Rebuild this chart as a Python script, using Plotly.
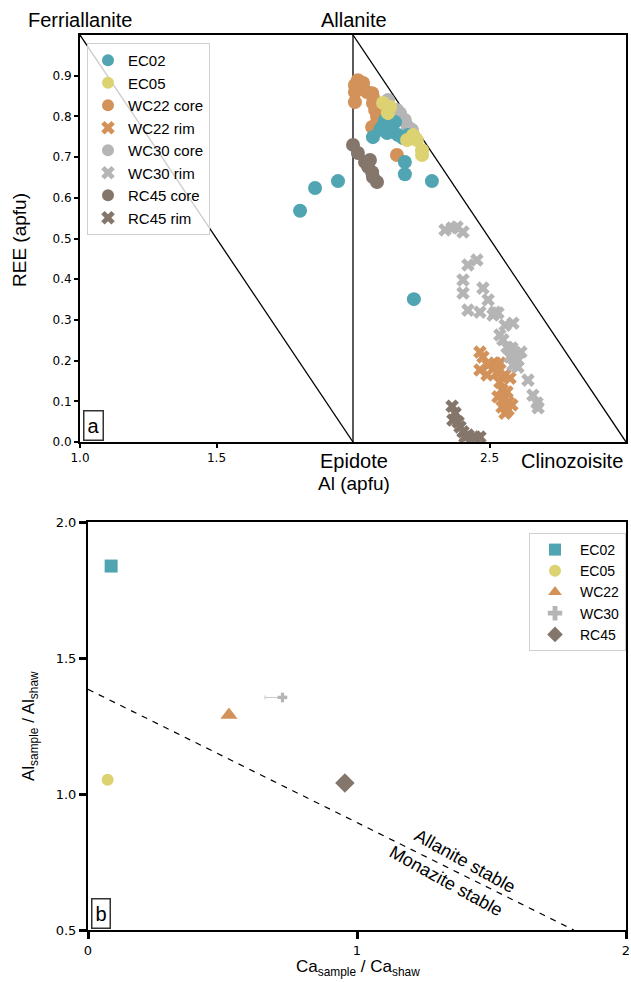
import plotly.graph_objects as go

# ---------------- Panel a : REE vs Al (apfu) ----------------
ec02_al = [1.806, 1.861, 1.945, 2.223, 2.289, 2.190, 2.190, 2.073, 2.099, 2.117, 2.136, 2.147,
           2.165, 2.183, 2.201, 2.125, 2.154, 2.106, 2.125]
ec02_ree = [0.568, 0.624, 0.641, 0.351, 0.641, 0.688, 0.658, 0.749, 0.767, 0.791, 0.779, 0.762,
            0.754, 0.747, 0.754, 0.796, 0.786, 0.774, 0.759]

ec05_al = [2.110, 2.128, 2.136, 2.198, 2.216, 2.234, 2.253, 2.253, 2.220]
ec05_ree = [0.833, 0.808, 0.823, 0.742, 0.747, 0.742, 0.717, 0.705, 0.754]

wc22c_al = [2.018, 2.007, 2.037, 2.007, 2.051, 2.070, 2.073, 2.007, 2.073, 2.081, 2.088, 2.070,
            2.088, 2.161]
wc22c_ree = [0.889, 0.877, 0.882, 0.860, 0.860, 0.857, 0.848, 0.835, 0.833, 0.816, 0.799, 0.774,
             0.784, 0.705]

wc22r_al = [2.465, 2.476, 2.465, 2.495, 2.520, 2.538, 2.491, 2.527, 2.557, 2.575, 2.538, 2.546,
            2.564, 2.531, 2.549, 2.568, 2.546, 2.568, 2.582, 2.557]
wc22r_ree = [0.221, 0.209, 0.177, 0.189, 0.194, 0.194, 0.165, 0.170, 0.165, 0.157, 0.147, 0.128,
             0.123, 0.111, 0.103, 0.098, 0.086, 0.079, 0.091, 0.071]

wc30c_al = [2.128, 2.161, 2.172, 2.190, 2.201, 2.216, 2.154]
wc30c_ree = [0.840, 0.816, 0.808, 0.791, 0.774, 0.767, 0.796]

wc30r_al = [2.337, 2.363, 2.381, 2.403, 2.421, 2.454, 2.403, 2.403, 2.476, 2.495, 2.421, 2.465,
            2.520, 2.531, 2.513, 2.557, 2.586, 2.538, 2.549, 2.582, 2.593, 2.604, 2.586, 2.604,
            2.641, 2.659, 2.674, 2.678, 2.564, 2.575, 2.615]
wc30r_ree = [0.521, 0.526, 0.528, 0.516, 0.435, 0.447, 0.398, 0.366, 0.378, 0.349, 0.324, 0.319,
             0.319, 0.317, 0.312, 0.287, 0.292, 0.263, 0.251, 0.231, 0.219, 0.201, 0.189, 0.184,
             0.152, 0.115, 0.096, 0.084, 0.233, 0.209, 0.221]

rc45c_al = [2.000, 2.018, 2.044, 2.062, 2.055, 2.070, 2.073, 2.088]
rc45c_ree = [0.730, 0.710, 0.688, 0.693, 0.676, 0.663, 0.651, 0.639]

rc45r_al = [2.363, 2.374, 2.366, 2.385, 2.392, 2.403, 2.421, 2.447, 2.465, 2.410]
rc45r_ree = [0.088, 0.071, 0.054, 0.049, 0.037, 0.025, 0.017, 0.012, 0.012, 0.012]

# end-member boundary lines (Al, REE)
line1_al = [1.0, 2.0]
line1_ree = [1.0, 0.0]
line2_al = [2.0, 2.0]
line2_ree = [0.0, 1.0]
line3_al = [2.0, 3.0]
line3_ree = [1.0, 0.0]

# ---------------- Panel b : Al ratio vs Ca ratio ----------------
b_names = ["EC02", "EC05", "WC22", "WC30", "RC45"]
b_ca = [0.086, 0.073, 0.524, 0.723, 0.955]
b_al = [1.838, 1.052, 1.290, 1.355, 1.040]
wc30_err_plus = 0.010
wc30_err_minus = 0.065
boundary_ca = [0.0, 1.806]
boundary_al = [1.385, 0.500]

C_EC02 = "#51A5B2"
C_EC05 = "#DCD272"
C_WC22 = "#D3925A"
C_WC30 = "#B5B5B5"
C_RC45 = "#85766B"

TXT = "Liberation Sans"
TICK = "DejaVu Sans"

fig = go.Figure()

for lx, ly in [(line1_al, line1_ree), (line2_al, line2_ree), (line3_al, line3_ree)]:
    fig.add_trace(go.Scatter(x=lx, y=ly, mode="lines", line=dict(color="black", width=1.3),
                             showlegend=False, hoverinfo="skip", xaxis="x", yaxis="y"))

def pts(x, y, name, color, symbol, size, rank):
    return go.Scatter(x=x, y=y, mode="markers", name=name, legendrank=rank, legend="legend",
                      marker=dict(color=color, symbol=symbol, size=size, line=dict(width=0)),
                      xaxis="x", yaxis="y")

fig.add_trace(pts(rc45c_al, rc45c_ree, "RC45 core", C_RC45, "circle", 14, 7))
fig.add_trace(pts(wc22c_al, wc22c_ree, "WC22 core", C_WC22, "circle", 14, 3))
fig.add_trace(pts(wc30c_al, wc30c_ree, "WC30 core", C_WC30, "circle", 14, 5))
fig.add_trace(pts(ec02_al, ec02_ree, "EC02", C_EC02, "circle", 14, 1))
fig.add_trace(pts(ec05_al, ec05_ree, "EC05", C_EC05, "circle", 14, 2))
fig.add_trace(pts(wc22r_al, wc22r_ree, "WC22 rim", C_WC22, "x", 12, 4))
fig.add_trace(pts(wc30r_al, wc30r_ree, "WC30 rim", C_WC30, "x", 12, 6))
fig.add_trace(pts(rc45r_al, rc45r_ree, "RC45 rim", C_RC45, "x", 12, 8))

# panel b
fig.add_trace(go.Scatter(x=boundary_ca, y=boundary_al, mode="lines",
                         line=dict(color="black", width=1.2, dash="6px,6px"),
                         showlegend=False, hoverinfo="skip", xaxis="x2", yaxis="y2"))
b_colors = [C_EC02, C_EC05, C_WC22, C_WC30, C_RC45]
b_symbols = ["square", "circle", "triangle-up", "cross", "diamond"]
b_sizes = [13, 12, 15, 8, 15]
for i, n in enumerate(b_names):
    kw = {}
    if n == "WC30":
        kw["error_x"] = dict(type="data", symmetric=False, array=[wc30_err_plus],
                             arrayminus=[wc30_err_minus], color="#C8C8C8", thickness=1, width=2)
    fig.add_trace(go.Scatter(x=[b_ca[i]], y=[b_al[i]], mode="markers", name=n, legend="legend2",
                             marker=dict(color=b_colors[i], symbol=b_symbols[i], size=b_sizes[i],
                                         line=dict(width=0)),
                             xaxis="x2", yaxis="y2", **kw))

W, H = 631, 982
def px(v):
    return v / W
def py(v):
    return 1 - v / H

axis_common = dict(showgrid=False, zeroline=False, showline=True, linecolor="black", mirror=True,
                   ticks="outside", tickcolor="black", automargin=False,
                   tickfont=dict(family=TICK, size=12, color="black"))

def label(text, x, y, size, angle=0, ref="paper"):
    d = dict(text=text, x=x, y=y, xref=ref, yref=ref, showarrow=False, textangle=angle,
             xanchor="center", yanchor="middle", font=dict(family=TXT, size=size, color="black"))
    if ref != "paper":
        d["xref"], d["yref"] = "x2", "y2"
    return d

annotations = [
    label("Ferriallanite", px(80), py(20), 20),
    label("Allanite", px(354), py(20), 20),
    label("Epidote", px(354), py(461), 20),
    label("Clinozoisite", px(572), py(461), 20),
    label("Al (apfu)", px(354), py(483), 19),
    label("REE (apfu)", px(19), py(240), 19, -90),
    label("Al<sub>sample</sub> / Al<sub>shaw</sub>", px(30), py(726), 17, -90),
    label("Ca<sub>sample</sub> / Ca<sub>shaw</sub>", px(358), py(968), 17),
    label("Allanite stable", 1.40, 0.755, 18, 29, ref="data"),
    label("Monazite stable", 1.33, 0.68, 18, 29, ref="data"),
    dict(text="a", x=px(83), y=py(441), xref="paper", yref="paper", showarrow=False,
         xanchor="left", yanchor="bottom", bgcolor="white", bordercolor="#333333", borderwidth=1.5,
         borderpad=3, font=dict(family=TXT, size=20, color="black")),
    dict(text="b", x=px(91), y=py(929), xref="paper", yref="paper", showarrow=False,
         xanchor="left", yanchor="bottom", bgcolor="white", bordercolor="#333333", borderwidth=1.5,
         borderpad=3, font=dict(family=TXT, size=20, color="black")),
]

fig.update_layout(
    width=W, height=H, margin=dict(l=0, r=0, t=0, b=0),
    paper_bgcolor="white", plot_bgcolor="white",
    xaxis=dict(axis_common, domain=[px(80), px(626)], range=[1, 3], anchor="y",
               tickvals=[1.0, 1.5, 2.5], ticktext=["1.0", "1.5", "2.5"], ticklen=4, tickwidth=1.5,
               linewidth=2),
    yaxis=dict(axis_common, domain=[py(442), py(35)], range=[0, 1.0], anchor="x",
               tickvals=[0, 0.1, 0.2, 0.3, 0.4, 0.5, 0.6, 0.7, 0.8, 0.9], tickformat=".1f",
               ticklen=4, tickwidth=1.5, linewidth=2),
    xaxis2=dict(axis_common, domain=[px(88), px(626)], range=[0, 2], anchor="y2",
                tickvals=[0, 1, 2], ticklen=7, tickwidth=3, linewidth=2,
                tickfont=dict(family=TICK, size=13, color="black")),
    yaxis2=dict(axis_common, domain=[py(930), py(522)], range=[0.5, 2.0], anchor="x2",
                tickvals=[0.5, 1.0, 1.5, 2.0], tickformat=".1f", ticklen=7, tickwidth=3,
                linewidth=2, tickfont=dict(family=TICK, size=13, color="black")),
    legend=dict(x=px(87), y=py(43), xanchor="left", yanchor="top", bgcolor="rgba(255,255,255,0.8)",
                bordercolor="#D0D0D0", borderwidth=1, font=dict(family=TXT, size=15, color="black"),
                itemsizing="constant"),
    legend2=dict(x=px(626), y=py(533), xanchor="right", yanchor="top", bgcolor="white",
                 bordercolor="#D0D0D0", borderwidth=1, font=dict(family=TXT, size=14, color="black"),
                 itemsizing="constant", itemwidth=40),
    annotations=annotations,
    showlegend=True,
)

fig.write_html("out.html")
